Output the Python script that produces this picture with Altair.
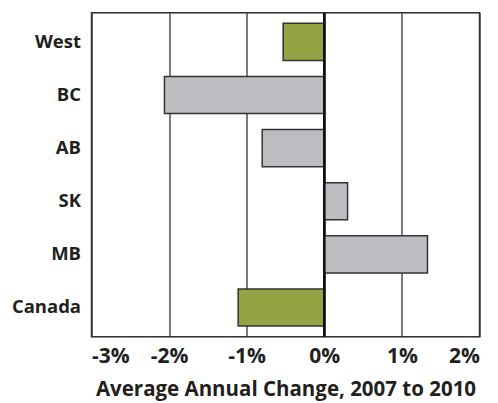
import altair as alt
import pandas as pd

regions = ["West", "BC", "AB", "SK", "MB", "Canada"]
changes = [-0.53, -2.06, -0.80, 0.30, 1.33, -1.11]
groups = ["aggregate", "province", "province", "province", "province", "aggregate"]
ticks = [-3, -2, -1, 0, 1, 2]

df = pd.DataFrame({"region": regions, "change": changes, "group": groups})

FONT = "Open Sans"
INK = "#231f20"
LINE = "#333333"

x_scale = alt.Scale(domain=[-3, 2], nice=False, zero=False)

bars = alt.Chart(df).mark_bar(stroke=LINE, strokeWidth=1.5).encode(
    y=alt.Y("region:N", sort=regions,
            scale=alt.Scale(paddingInner=0.3, paddingOuter=0.2),
            axis=alt.Axis(title=None, labelFont=FONT, labelFontWeight="bold",
                          labelFontSize=18.5, labelColor=INK, labelPadding=11,
                          ticks=False, domain=False)),
    x=alt.X("change:Q", scale=x_scale,
            axis=alt.Axis(title="Average Annual Change, 2007 to 2010", values=ticks,
                          labelExpr="datum.value + '%'",
                          labelFont=FONT, labelFontWeight="bold", labelFontSize=21,
                          labelColor=INK, labelPadding=9, ticks=False, domain=False,
                          grid=True, gridColor=LINE, gridWidth=1.3, gridOpacity=1,
                          titleFont=FONT, titleFontWeight="bold", titleFontSize=20.5,
                          titleColor=INK, titlePadding=13)),
    color=alt.Color("group:N",
                    scale=alt.Scale(domain=["aggregate", "province"],
                                    range=["#92a443", "#bcbdc0"]),
                    legend=None),
)

frame = alt.Chart(pd.DataFrame({"f": [0]})).mark_rect(
    fill=None, fillOpacity=0, stroke=LINE, strokeWidth=1.5
).encode(
    x=alt.value(0), x2=alt.value(388), y=alt.value(0), y2=alt.value(324)
)

zero = alt.Chart(pd.DataFrame({"z": [0]})).mark_rule(color="#111111", strokeWidth=2.6).encode(
    x=alt.X("z:Q", scale=x_scale)
)

chart = alt.layer(bars, frame, zero).properties(
    width=388, height=324,
    autosize=alt.AutoSizeParams(type="none"),
    padding={"left": 83.5, "top": 4.7, "right": 2, "bottom": 80},
).configure_view(stroke=None).configure(background="white")

chart.save("out.html", embed_options={"renderer": "svg", "actions": False})
